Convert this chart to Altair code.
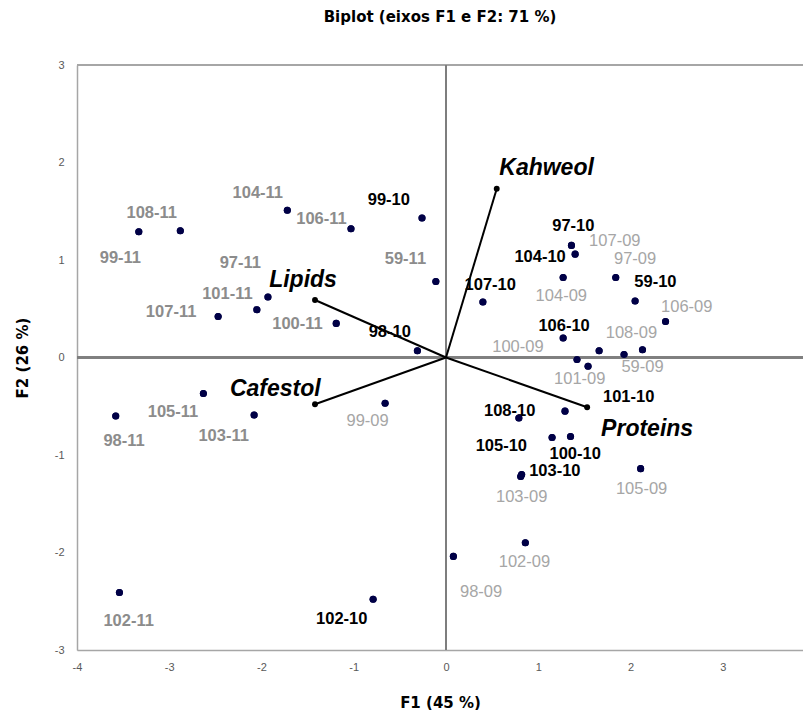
import altair as alt
import pandas as pd

# Observations (F1, F2) and label anchor positions
obs_names = ["59-09", "97-09", "98-09", "99-09", "100-09", "101-09", "102-09",
             "103-09", "104-09", "105-09", "106-09", "107-09", "108-09",
             "59-10", "97-10", "98-10", "99-10", "100-10", "101-10", "102-10",
             "103-10", "104-10", "105-10", "106-10", "107-10", "108-10",
             "59-11", "97-11", "98-11", "99-11", "100-11", "101-11", "102-11",
             "103-11", "104-11", "105-11", "106-11", "107-11", "108-11"]
obs_year = ["09"] * 13 + ["10"] * 13 + ["11"] * 13
obs_f1 = [2.13, 1.84, 0.08, -0.66, 1.42, 1.54, 0.86, 0.81, 1.27, 2.11, 2.38, 1.66, 1.93,
          2.05, 1.36, -0.31, -0.26, 1.35, 1.29, -0.79, 0.82, 1.40, 1.15, 1.27, 0.40, 0.79,
          -0.11, -1.93, -3.58, -3.33, -1.19, -2.05, -3.54, -2.08, -1.72, -2.63, -1.03, -2.47, -2.88]
obs_f2 = [0.08, 0.82, -2.04, -0.47, -0.02, -0.09, -1.90, -1.22, 0.82, -1.14, 0.37, 0.07, 0.03,
          0.58, 1.15, 0.07, 1.43, -0.81, -0.55, -2.48, -1.20, 1.06, -0.82, 0.20, 0.57, -0.62,
          0.78, 0.62, -0.60, 1.29, 0.35, 0.49, -2.41, -0.59, 1.51, -0.37, 1.32, 0.42, 1.30]
lab_f1 = [2.13, 2.05, 0.38, -0.85, 0.78, 1.45, 0.85, 0.82, 1.25, 2.12, 2.61, 1.83, 2.01,
          2.27, 1.38, -0.61, -0.62, 1.40, 1.98, -1.13, 1.18, 1.02, 0.60, 1.28, 0.48, 0.69,
          -0.44, -2.23, -3.49, -3.53, -1.61, -2.37, -3.44, -2.41, -2.04, -2.96, -1.35, -2.98, -3.19]
lab_f2 = [-0.10, 1.01, -2.40, -0.65, 0.11, -0.22, -2.10, -1.43, 0.63, -1.35, 0.52, 1.19, 0.25,
          0.77, 1.35, 0.26, 1.62, -0.99, -0.41, -2.68, -1.16, 1.03, -0.91, 0.32, 0.74, -0.55,
          1.01, 0.97, -0.86, 1.02, 0.34, 0.65, -2.70, -0.81, 1.69, -0.56, 1.42, 0.47, 1.48]

# Variables (loadings) and label positions
var_names = ["Kahweol", "Lipids", "Cafestol", "Proteins"]
var_f1 = [0.55, -1.42, -1.42, 1.53]
var_f2 = [1.73, 0.59, -0.48, -0.51]
var_lab_f1 = [1.09, -1.55, -1.85, 2.18]
var_lab_f2 = [1.94, 0.79, -0.32, -0.73]

x_ticks = [-4, -3, -2, -1, 0, 1, 2, 3]
y_ticks = [-3, -2, -1, 0, 1, 2, 3]

obs = pd.DataFrame({"name": obs_names, "year": obs_year, "f1": obs_f1, "f2": obs_f2,
                    "lx": lab_f1, "ly": lab_f2})
var = pd.DataFrame({"name": var_names, "f1": var_f1, "f2": var_f2,
                    "lx": var_lab_f1, "ly": var_lab_f2,
                    "o1": [0.0] * 4, "o2": [0.0] * 4})

FONT = "Liberation Sans"
TFONT = "DejaVu Sans"
xs = alt.Scale(domain=[-4, 3.87], nice=False, zero=False)
ys = alt.Scale(domain=[-3, 3], nice=False, zero=False)
xa = alt.Axis(values=x_ticks, grid=False, ticks=False, domainColor="#a6a6a6", domainWidth=1.5,
              labelColor="#595959", labelFontSize=11, labelFont=FONT, labelPadding=11,
              labelFlush=False, labelExpr="toString(datum.value)",
              titleFont=TFONT, titleFontSize=15, titleFontWeight="bold", titleColor="#000000",
              titlePadding=23)
ya = alt.Axis(values=y_ticks, grid=False, ticks=False, domainColor="#a6a6a6", domainWidth=1.5,
              labelColor="#595959", labelFontSize=11, labelFont=FONT, labelPadding=13,
              labelFlush=False, labelExpr="toString(datum.value)",
              titleFont=TFONT, titleFontSize=15, titleFontWeight="bold", titleColor="#000000",
              titlePadding=24)

X = alt.X("f1:Q", scale=xs, axis=xa, title="F1 (45 %)")
Y = alt.Y("f2:Q", scale=ys, axis=ya, title="F2 (26 %)")

base_obs = alt.Chart(obs)

points = base_obs.mark_circle(size=50, color="#000046", opacity=1).encode(x=X, y=Y)

top_border = alt.Chart(obs).mark_rule(color="#a6a6a6", strokeWidth=1.5).encode(y=alt.datum(3))
vzero = alt.Chart(obs).mark_rule(color="#7f7f7f", strokeWidth=1.5).encode(x=alt.datum(0))
hzero = alt.Chart(obs).mark_rule(color="#7f7f7f", strokeWidth=1.5).encode(y=alt.datum(0))

arrows = alt.Chart(var).mark_rule(color="#000000", strokeWidth=2).encode(
    x=alt.X("o1:Q", scale=xs, title="F1 (45 %)"),
    y=alt.Y("o2:Q", scale=ys, title="F2 (26 %)"),
    x2="f1:Q", y2="f2:Q")
arrow_ends = alt.Chart(var).mark_circle(size=35, color="#000000", opacity=1).encode(
    x=alt.X("f1:Q", scale=xs, title="F1 (45 %)"),
    y=alt.Y("f2:Q", scale=ys, title="F2 (26 %)"))
var_labels = alt.Chart(var).mark_text(font=FONT, fontSize=23, fontWeight="bold",
                                      fontStyle="italic", color="#000000",
                                      baseline="middle", align="center").encode(
    x=alt.X("lx:Q", scale=xs, title="F1 (45 %)"),
    y=alt.Y("ly:Q", scale=ys, title="F2 (26 %)"),
    text="name:N")

def year_labels(yr, color, weight):
    return base_obs.transform_filter(alt.datum.year == yr).mark_text(
        font=FONT, fontSize=16.5, fontWeight=weight, color=color,
        baseline="middle", align="center").encode(
        x=alt.X("lx:Q", scale=xs, title="F1 (45 %)"),
        y=alt.Y("ly:Q", scale=ys, title="F2 (26 %)"),
        text="name:N")

lab09 = year_labels("09", "#a6a6a6", "normal")
lab10 = year_labels("10", "#000000", "bold")
lab11 = year_labels("11", "#8c8c8c", "bold")

chart = alt.layer(points, top_border, vzero, hzero, arrows, arrow_ends,
                  lab09, lab10, lab11, var_labels, points).properties(
    width=726, height=585,
    autosize=alt.AutoSizeParams(type="none"),
    padding={"left": 69, "top": 57, "right": 0, "bottom": 60},
    title=alt.Title("Biplot (eixos F1 e F2: 71 %)", font=TFONT, fontSize=15,
                    fontWeight="bold", color="#000000", offset=34, anchor="middle"),
).configure_view(stroke=None).configure(background="white")

chart.save("out.html", embed_options={"renderer": "svg", "actions": False})
